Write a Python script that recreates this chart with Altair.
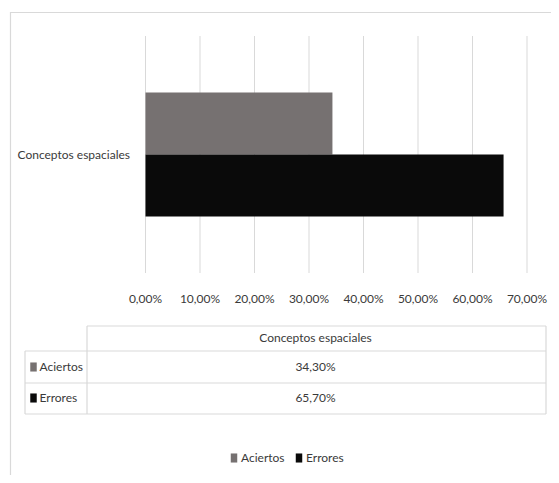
import altair as alt
import pandas as pd

# ---- data ----
category = "Conceptos espaciales"
series = ["Aciertos", "Errores"]
values = [0.343, 0.657]
value_labels = ["34,30%", "65,70%"]
tick_values = [0.0, 0.1, 0.2, 0.3, 0.4, 0.5, 0.6, 0.7]
tick_labels = ["0,00%", "10,00%", "20,00%", "30,00%", "40,00%", "50,00%", "60,00%", "70,00%"]
colors = ["#767171", "#0a0a0a"]

FONT = "Lato"
FS = 12
TXT = "#3a3a3a"
GRID = "#d9d9d9"
SYM = "M-1,-1.4L1,-1.4L1,1.4L-1,1.4Z"

bars_df = pd.DataFrame({"category": [category] * 2, "series": series, "value": values})
ticks_df = pd.DataFrame({"v": tick_values, "label": tick_labels})
table_df = pd.DataFrame({"series": series, "label": value_labels,
                         "row_y": [359, 390]})  # row middle (view px)

xscale = alt.Scale(domain=[0, 0.7], range=[137.5, 519], nice=False, zero=True)
yscale = alt.Scale(range=[28, 265], paddingOuter=0.456, paddingInner=0)
cscale = alt.Scale(domain=series, range=colors)

one = pd.DataFrame({"a": [0]})

# chart-area border (left and top edges visible)
border_left = alt.Chart(one).mark_rule(color=GRID, strokeWidth=1.2).encode(
    x=alt.value(2.5), y=alt.value(4), y2=alt.value(470))
border_top = alt.Chart(one).mark_rule(color=GRID, strokeWidth=1.2).encode(
    x=alt.value(2), x2=alt.value(560), y=alt.value(4.5))

grid = alt.Chart(ticks_df).mark_rule(color=GRID, strokeWidth=1).encode(
    x=alt.X("v:Q", scale=xscale, axis=None),
    y=alt.value(28), y2=alt.value(265))

tick_text = alt.Chart(ticks_df).mark_text(font=FONT, fontSize=FS, color=TXT, baseline="middle").encode(
    x=alt.X("v:Q", scale=xscale, axis=None),
    y=alt.value(291),
    text="label:N")

bars = alt.Chart(bars_df).mark_bar(stroke=None).encode(
    x=alt.X("value:Q", scale=xscale, axis=None),
    y=alt.Y("category:N", scale=yscale, axis=None),
    yOffset=alt.YOffset("series:N", scale=alt.Scale(paddingInner=0, paddingOuter=0), sort=series),
    color=alt.Color("series:N", scale=cscale, legend=alt.Legend(
        orient="none", legendX=220, legendY=444, direction="horizontal", title=None,
        symbolType=SYM, symbolSize=42,
        symbolStrokeWidth=0, labelFont=FONT, labelFontSize=FS, labelColor=TXT,
        labelOffset=1, columnPadding=8, symbolOpacity=1)),
)

cat_label = alt.Chart(bars_df.iloc[[0]]).mark_text(font=FONT, fontSize=FS, color=TXT, align="right",
                                                   baseline="middle").encode(
    y=alt.Y("category:N", scale=yscale, axis=None),
    x=alt.value(122),
    text="category:N")

# data table lines
h_lines = pd.DataFrame({"x1": [79, 17, 17, 17], "x2": [538, 538, 538, 538], "y": [318, 343, 375, 406]})
v_lines = pd.DataFrame({"x": [17, 79, 538], "y1": [343, 318, 318], "y2": [406, 406, 406]})
table_h = alt.layer(*[
    alt.Chart(one).mark_rule(color=GRID, strokeWidth=1.2).encode(
        x=alt.value(r.x1), x2=alt.value(r.x2), y=alt.value(r.y))
    for r in h_lines.itertuples()])
table_v = alt.layer(*[
    alt.Chart(one).mark_rule(color=GRID, strokeWidth=1.2).encode(
        x=alt.value(r.x), y=alt.value(r.y1), y2=alt.value(r.y2))
    for r in v_lines.itertuples()])

header = alt.Chart(bars_df.iloc[[0]]).mark_text(font=FONT, fontSize=FS, color=TXT, baseline="middle").encode(
    x=alt.value(307.5), y=alt.value(330), text="category:N")

val_text = alt.Chart(table_df).mark_text(font=FONT, fontSize=FS, color=TXT, baseline="middle").encode(
    x=alt.value(307.5), y=alt.Y("row_y:Q", scale=None), text="label:N")

row_text = alt.Chart(table_df).mark_text(font=FONT, fontSize=FS, color=TXT, baseline="middle",
                                         align="left").encode(
    x=alt.value(31.5), y=alt.Y("row_y:Q", scale=None), text="series:N")

row_sym = alt.Chart(table_df).mark_point(filled=True, opacity=1, shape=SYM, size=42).encode(
    x=alt.value(25.5), y=alt.Y("row_y:Q", scale=None),
    color=alt.Color("series:N", scale=cscale, legend=None))

chart = alt.layer(
    border_left, border_top, grid, bars, tick_text, cat_label,
    table_h, table_v, header, val_text, row_text, row_sym,
).properties(
    width=543, height=467, padding=0, autosize=alt.AutoSizeParams(type="none"),
    background="white",
).configure_view(stroke=None)

chart.save("out.html", embed_options={"renderer": "svg", "actions": False})
